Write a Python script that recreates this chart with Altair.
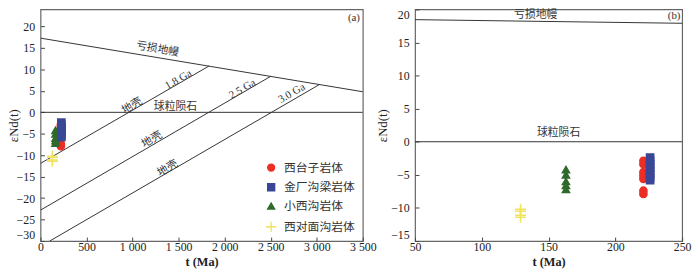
import altair as alt
import pandas as pd

# ---------------- data ----------------
groups = ["西台子岩体", "金厂沟梁岩体", "小西沟岩体", "西对面沟岩体"]
colors = ["#ec2f26", "#3a4796", "#2f6a2c", "#f0e35e"]
shapes = ["circle", "square", "triangle-up", "M-1.5,0L1.5,0M0,-1.5L0,1.5"]

xitaizi_t = [221, 221, 221, 221, 221, 221, 221]
xitaizi_eps = [-2.9, -3.4, -4.6, -5.1, -5.6, -7.4, -7.9]
xiaoxigou_t = [163, 163, 163, 163, 163]
xiaoxigou_eps = [-4.2, -5.0, -6.0, -6.6, -7.2]
jinchang_t = [226, 226, 226, 226, 226, 226, 226, 226]
jinchang_eps = [-2.4, -2.9, -3.4, -3.9, -4.4, -4.9, -5.4, -5.8]
xiduimian_t = [129, 129, 129, 129]
xiduimian_eps = [-10.2, -10.5, -11.1, -11.4]

# reference lines, panel (a)
dm_a_t = [0, 3500]
dm_a_eps = [17.3, 4.8]
chur_a_t = [0, 3500]
chur_a_eps = [0, 0]
crust18_t = [0, 1830]
crust18_eps = [-11.9, 10.8]
crust25_t = [0, 2500]
crust25_eps = [-22.8, 8.4]
crust30_t = [100, 3030]
crust30_eps = [-30, 6.5]

# reference lines, panel (b)
dm_b_t = [50, 250]
dm_b_eps = [18.45, 17.9]
chur_b_t = [50, 250]
chur_b_eps = [0, 0]

# annotations
labels_a = ["亏损地幔", "1.8 Ga", "2.5 Ga", "3.0 Ga", "地壳", "球粒陨石", "地壳", "地壳", "(a)"]
labels_a_t = [1270, 1499, 2194, 2729, 995, 1466, 1210, 1381, 3404]
labels_a_eps = [14.7, 7.6, 5.4, 4.4, 1.5, 1.2, -6.4, -13.1, 22.0]
labels_a_angle = [10, 330, 330, 330, 330, 0, 330, 330, 0]

labels_b = ["亏损地幔", "(b)", "球粒陨石"]
labels_b_t = [140.4, 244.0, 157.5]
labels_b_eps = [19.1, 18.95, 1.3]
labels_b_angle = [0, 0, 0]

xticks_a = [0, 500, 1000, 1500, 2000, 2500, 3000, 3500]
yticks_a = [-30, -25, -20, -15, -10, -5, 0, 5, 10, 15, 20]
xticks_b = [50, 100, 150, 200, 250]
yticks_b = [-15, -10, -5, 0, 5, 10, 15, 20]

# ---------------- tables ----------------
pts = pd.concat([
    pd.DataFrame({"t": xitaizi_t, "eps": xitaizi_eps, "group": groups[0]}),
    pd.DataFrame({"t": xiaoxigou_t, "eps": xiaoxigou_eps, "group": groups[2]}),
    pd.DataFrame({"t": jinchang_t, "eps": jinchang_eps, "group": groups[1]}),
    pd.DataFrame({"t": xiduimian_t, "eps": xiduimian_eps, "group": groups[3]}),
], ignore_index=True)

lines_a = pd.concat([
    pd.DataFrame({"t": dm_a_t, "eps": dm_a_eps, "line": "dm"}),
    pd.DataFrame({"t": chur_a_t, "eps": chur_a_eps, "line": "chur"}),
    pd.DataFrame({"t": crust18_t, "eps": crust18_eps, "line": "c18"}),
    pd.DataFrame({"t": crust25_t, "eps": crust25_eps, "line": "c25"}),
    pd.DataFrame({"t": crust30_t, "eps": crust30_eps, "line": "c30"}),
], ignore_index=True)
lines_b = pd.concat([
    pd.DataFrame({"t": dm_b_t, "eps": dm_b_eps, "line": "dm"}),
    pd.DataFrame({"t": chur_b_t, "eps": chur_b_eps, "line": "chur"}),
], ignore_index=True)

txt_a = pd.DataFrame({"t": labels_a_t, "eps": labels_a_eps, "label": labels_a, "angle": labels_a_angle})
txt_b = pd.DataFrame({"t": labels_b_t, "eps": labels_b_eps, "label": labels_b, "angle": labels_b_angle})

FONT = "Liberation Serif, Noto Sans CJK SC"
H = 235


def panel(lines_df, txt_df, xdom, ydom, xticks, yticks, w, h, title_x, legend):
    xs = alt.Scale(domain=xdom, nice=False, zero=False)
    ys = alt.Scale(domain=ydom, nice=False, zero=False)
    xa = alt.Axis(values=xticks, title="t (Ma)", offset=-4, tickSize=4, domain=False,
                  grid=False, labelPadding=1, labelFlush=False, labelOverlap=False,
                  labelExpr="replace(format(datum.value, ','), ',', ' ')",
                  titleY=24.5, titleBaseline="middle", titleFontWeight="bold",
                  titleFontSize=12.5)
    ya = alt.Axis(values=yticks, title="εNd(t)", offset=-4, tickSize=4, domain=False,
                  grid=False, labelPadding=6, labelOverlap=False, labelFlush=True,
                  titleX=title_x, titleY=h / 2, titleBaseline="middle",
                  titleFontWeight="normal")
    X = alt.X("t:Q", scale=xs, axis=xa)
    Y = alt.Y("eps:Q", scale=ys, axis=ya)

    ln = alt.Chart(lines_df).mark_line(color="#333", strokeWidth=1, clip=True).encode(
        x=X, y=Y, detail="line:N")

    if legend:
        lg = alt.Legend(title=None, orient="none", legendX=228, legendY=154.5,
                        labelFont=FONT, labelFontSize=12, labelColor="#333",
                        rowPadding=6, labelOffset=7, symbolSize=50,
                        symbolStrokeWidth=1.4)
    else:
        lg = None
    fill = alt.Fill("group:N", scale=alt.Scale(domain=groups, range=colors), legend=lg)
    stroke = alt.Stroke("group:N", scale=alt.Scale(domain=groups, range=colors), legend=lg)
    shape = alt.Shape("group:N", scale=alt.Scale(domain=groups, range=shapes), legend=lg)

    pt = alt.Chart(pts).mark_point(filled=True, opacity=1, strokeWidth=1.4, size=55, clip=True).encode(
        x=X, y=Y, fill=fill, stroke=stroke, shape=shape)

    tx = alt.Chart(txt_df).mark_text(font=FONT, fontSize=11, color="#333").encode(
        x=X, y=Y, text="label:N", angle=alt.Angle("angle:Q", scale=None))

    return alt.layer(ln, pt, tx).properties(width=w, height=h)


a = panel(lines_a, txt_a, [0, 3500], [-30, 24], xticks_a, yticks_a, 327, H, -31, True)
b = panel(lines_b, txt_b, [50, 250], [-15, 20], xticks_b, yticks_b, 271, H, -37, False)

chart = alt.hconcat(a, b, spacing=53, bounds="flush").resolve_scale(
    x="independent", y="independent", fill="independent", stroke="independent",
    shape="independent"
).resolve_legend(
    fill="independent", stroke="independent", shape="independent"
).properties(
    padding={"left": -1, "top": -2.5, "right": 0, "bottom": 0}
).configure_view(
    stroke="#666", strokeWidth=1.2
).configure_axis(
    labelFont="Liberation Serif", labelFontSize=12, labelColor="#222",
    titleFont="Liberation Serif", titleFontSize=13, titleColor="#222",
    tickColor="#444", tickWidth=1, labelOverlap=False
)

chart.save("out.html", embed_options={"renderer": "svg", "actions": False})
